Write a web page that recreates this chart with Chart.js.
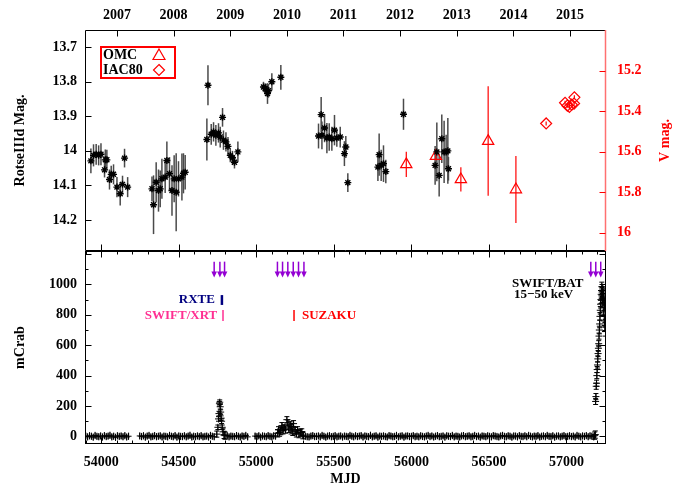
<!DOCTYPE html>
<html><head><meta charset="utf-8">
<script src="https://cdn.jsdelivr.net/npm/chart.js@4.4.1/dist/chart.umd.min.js"></script>
<style>
html,body{margin:0;padding:0;background:#fff;overflow:hidden;width:682px;height:486px;}
#wrapA{position:absolute;left:0;top:0;width:682px;height:252px;}
#wrapB{position:absolute;left:0;top:251px;width:682px;height:235px;}
</style></head><body>
<div id="wrapA"><canvas id="cA" width="682" height="252"></canvas></div>
<div id="wrapB"><canvas id="cB" width="682" height="235"></canvas></div>
<script>
// ---------------- DATA ----------------
const yearLabels = ['2007','2008','2009','2010','2011','2012','2013','2014','2015'];
const yearStartMJD = [54101,54466,54831,55197,55562,55927,56293,56658,57023];
const mjdTicks = [54000,54500,55000,55500,56000,56500,57000];
const rotseTicks = [13.7,13.8,13.9,14.0,14.1,14.2];
const vmagTicks = [15.2,15.4,15.6,15.8,16.0];
const batTicks = [0,200,400,600,800,1000];

// ROTSE-IIId magnitudes
const rotseMJD = [53933,53950,53967,53983,53998,54021,54026,54036,54053,54064,54079,54101,54122,54137,54150,54170,
  54327,54337,54354,54369,54380,54391,54412,54423,54440,54456,54470,54483,54498,54520,54530,54541,
  54681,54688,54709,54724,54739,54756,54767,54782,54788,54804,54817,54832,54846,54859,54881,
  55046,55057,55068,55072,55078,55100,55158,
  55401,55418,55423,55440,55455,55470,55487,55504,55519,55541,55568,55577,55590,
  55784,55792,55805,55820,55835,55949,
  56153,56164,56179,56196,56211,56224,56235,56239];
const rotseMag = [14.029,14.013,14.010,14.013,14.010,14.055,14.026,14.026,14.083,14.068,14.068,14.105,14.124,14.097,14.021,14.105,
  14.110,14.156,14.091,14.115,14.110,14.081,14.076,14.028,14.066,14.115,14.081,14.120,14.081,14.076,14.065,14.062,
  13.967,13.810,13.952,13.945,13.955,13.948,13.960,13.903,13.969,13.974,13.987,14.013,14.020,14.033,14.003,
  13.815,13.819,13.824,13.834,13.826,13.800,13.787,
  13.957,13.895,13.955,13.934,13.963,13.960,13.965,13.940,13.963,13.960,14.008,13.989,14.092,
  14.047,14.011,14.042,14.037,14.060,13.894,
  14.042,14.003,14.071,13.965,14.003,14.003,14.000,14.052];
const rotseErr = [0.036,0.032,0.030,0.029,0.032,0.022,0.030,0.029,0.029,0.025,0.029,0.029,0.034,0.025,0.027,0.029,
  0.036,0.085,0.058,0.061,0.053,0.058,0.046,0.055,0.048,0.073,0.068,0.113,0.051,0.068,0.058,0.050,
  0.061,0.058,0.030,0.028,0.030,0.028,0.030,0.027,0.028,0.028,0.027,0.020,0.020,0.018,0.030,
  0.015,0.015,0.018,0.030,0.020,0.025,0.036,
  0.036,0.051,0.040,0.041,0.044,0.040,0.035,0.044,0.025,0.030,0.036,0.032,0.027,
  0.040,0.061,0.045,0.053,0.034,0.045,
  0.056,0.085,0.061,0.070,0.090,0.050,0.095,0.034];

// INTEGRAL/OMC V mag
const omcMJD = [55967,56158,56319,56495,56674];
const omcV   = [15.663,15.622,15.737,15.548,15.787];
const omcErr = [0.062,0.020,0.060,0.270,0.165];

// IAC80 V mag
const iacMJD = [56869,56991,57006,57019,57034,57049,57051];
const iacV   = [15.461,15.359,15.373,15.379,15.368,15.363,15.332];
const iacErr = [0.010,0.010,0.010,0.010,0.010,0.010,0.010];

// SWIFT/BAT quiescent light curve (12-day sampling, null = gap / replaced by flare arrays)
const batQuietStart = 53900;
const batQuietStep = 12;
const batQuietErr = 24;
const batQuietValues = [
  2,-3,4,1,-5,6,0,-2,3,-4,5,-1,2,7,-3,1,-6,4,0,3,
  -2,5,-4,1,null,null,null,null,null,3,-1,4,-5,2,6,-3,0,5,-2,1,
  4,-4,2,0,-3,6,1,-2,5,-5,3,0,-1,4,-3,2,7,-4,1,-2,
  3,-1,5,-3,0,2,-4,6,1,-2,null,null,null,null,null,null,4,-3,2,0,
  -2,5,1,-4,3,0,6,-3,null,null,null,2,-1,4,-5,3,1,-2,5,0,
  -3,4,2,null,null,null,null,null,null,null,null,null,null,null,null,null,null,3,1,-2,
  -4,2,5,-1,0,3,-3,6,1,-5,2,4,-2,0,5,-3,1,3,-4,2,
  0,-2,6,1,-3,4,-1,2,5,-4,3,0,-2,7,-3,1,4,-5,2,0,
  3,-1,-4,5,2,-2,0,6,-3,1,4,-5,2,3,-1,0,5,-2,1,-3,
  4,0,-3,2,6,-1,3,-4,1,5,-2,0,3,-5,4,1,-1,6,-3,2,
  0,-4,3,5,-2,1,4,-3,0,6,-1,2,-5,3,1,-2,4,0,-3,5,
  2,-1,-4,3,6,0,-2,4,1,-5,3,2,-3,5,0,-1,4,-2,6,1,
  -3,2,0,5,-4,1,3,-2,6,0,-1,4,-5,2,3,-3,1,5,-2,0,
  4,-1,2,-4,6,1,-3,3,0,5,-2,4,1,-3];

// BAT flare 1 (late 2008)
const flare1MJD = [54745,54752,54756,54759,54762,54764,54767,54770,54773,54776,54780,54785,54792,54798];
const flare1Flux = [15,60,115,150,215,225,195,160,120,100,60,30,10,5];
const flare1Err = [20,15,15,15,15,15,15,15,15,15,15,20,24,24];

// BAT flare 2 (late 2009 / early 2010)
const flare2MJD = [55138,55143,55150,55158,55165,55172,55180,55188,55197,55203,55210,55218,55224,55229,55235,55240,55250,55258,55266,55275,55285,55293,55300];
const flare2Flux = [20,44,25,35,71,40,57,45,110,88,50,77,40,66,30,84,35,20,44,15,25,26,8];
const flare2Err = [24,20,24,24,20,24,20,24,20,20,24,20,24,20,24,20,24,24,20,24,24,24,24];

// BAT giant outburst (2015)
const burstMJD = [57182,57186,57188,57190,57192,57194,57196,57198,57200,57202,57204,57206,57208,57210,57212,57214,57216,57218,57220,57222,57224,57226,57228,57230,57232,57234,57236,57238,57240,57242,57244,57246,57248,57250,57252];
const burstFlux = [5,12,230,262,330,350,400,440,470,510,545,580,610,660,700,740,790,830,870,900,935,960,985,950,910,970,880,940,820,900,760,860,720,800,690];
const burstErr = [24,24,20,20,20,20,20,20,20,20,20,20,20,20,25,25,25,25,25,25,25,25,30,30,30,30,30,30,30,30,30,30,30,30,30];

// pointed observations (arrows, MJD)
const arrowMJD = [54728,54765,54795,55136,55169,55203,55238,55272,55307,57157,57189,57221];

// ---------------- CONFIG ----------------
const X_MIN = 53895, X_MAX = 57255;
const FONT = "'Liberation Serif','Times New Roman',serif";
const F14 = {family: FONT, size: 14, weight: 'bold'};

const annotTexts = [
  {text:'RXTE', x:54733, y:897, color:'#000080', align:'right'},
  {text:'SWIFT/XRT', x:54748, y:792, color:'#ff2f92', align:'right'},
  {text:'SUZAKU', x:55294, y:792, color:'#ff0000', align:'left'},
  {text:'SWIFT/BAT', x:56649, y:1003, color:'#000000', align:'left'},
  {text:'15\u221250 keV', x:56662, y:934, color:'#000000', align:'left'}
];
const annotBars = [
  {x:54778, y1:865, y2:930, color:'#000080', w:2.5},
  {x:54785, y1:759, y2:832, color:'#ff2f92', w:1.5},
  {x:55243, y1:759, y2:832, color:'#ff0000', w:1.5}
];

const zip = (xs, ys) => xs.map((x, i) => ({x: x, y: ys[i]}));

const batQuiet = [];
batQuietValues.forEach((v, i) => { if (v !== null) batQuiet.push({x: batQuietStart + i * batQuietStep, y: v}); });

function noPad(sc) { sc.paddingTop = 0; sc.paddingBottom = 0; sc.paddingLeft = 0; sc.paddingRight = 0; }

// ---------------- PLUGINS ----------------
const errorBarPlugin = {
  id: 'errbars',
  beforeDatasetsDraw(chart) {
    const ctx = chart.ctx, ca = chart.chartArea;
    ctx.save();
    ctx.beginPath(); ctx.rect(ca.left, ca.top, ca.right - ca.left, ca.bottom - ca.top); ctx.clip();
    chart.data.datasets.forEach(ds => {
      if (!ds.errs) return;
      const xs = chart.scales[ds.xAxisID || 'x'], ys = chart.scales[ds.yAxisID || 'y'];
      ctx.strokeStyle = ds.errColor; ctx.lineWidth = ds.errWidth;
      ds.data.forEach((p, i) => {
        const e = ds.errs[i];
        const px = xs.getPixelForValue(p.x);
        const y1 = ys.getPixelForValue(p.y - e), y2 = ys.getPixelForValue(p.y + e);
        ctx.beginPath(); ctx.moveTo(px, y1); ctx.lineTo(px, y2);
        if (ds.errCap) {
          ctx.moveTo(px - ds.errCap, y1); ctx.lineTo(px + ds.errCap, y1);
          ctx.moveTo(px - ds.errCap, y2); ctx.lineTo(px + ds.errCap, y2);
        }
        ctx.stroke();
      });
    });
    ctx.restore();
  }
};

function line(ctx, x1, y1, x2, y2) { ctx.beginPath(); ctx.moveTo(x1, y1); ctx.lineTo(x2, y2); ctx.stroke(); }

const topFramePlugin = {
  id: 'topframe',
  afterDraw(chart) {
    const ctx = chart.ctx, ca = chart.chartArea, s = chart.scales;
    const L = Math.round(ca.left) + 0.5, R = Math.round(ca.right) - 0.5, T = Math.round(ca.top) + 0.5, B = Math.round(ca.bottom) - 0.5;
    ctx.save();
    ctx.lineWidth = 1; ctx.strokeStyle = '#000';
    line(ctx, L, T, R, T); line(ctx, L, T, L, B); line(ctx, L, B, R, B);
    yearStartMJD.forEach(v => { const x = Math.round(s.xTop.getPixelForValue(v)) + 0.5; line(ctx, x, T, x, T + 6); });
    mjdTicks.forEach(v => { const x = Math.round(s.x.getPixelForValue(v)) + 0.5; line(ctx, x, B, x, B - 6); });
    rotseTicks.forEach(v => { const y = Math.round(s.yL.getPixelForValue(v)) + 0.5; line(ctx, L, y, L + 6, y); });
    ctx.strokeStyle = '#ff7070'; ctx.lineWidth = 1.5;
    line(ctx, R, T - 0.5, R, B + 0.5);
    ctx.lineWidth = 1; ctx.strokeStyle = '#ff0000';
    vmagTicks.forEach(v => { const y = Math.round(s.yR.getPixelForValue(v)) + 0.5; line(ctx, R, y, R - 6, y); });
    // right axis title (reads bottom to top)
    ctx.save();
    ctx.translate(665, (ca.top + ca.bottom) / 2);
    ctx.rotate(-Math.PI / 2);
    ctx.fillStyle = '#ff0000'; ctx.font = 'bold 14px ' + FONT;
    ctx.textAlign = 'center'; ctx.textBaseline = 'middle';
    ctx.fillText('V mag.', 0, 0);
    ctx.restore();
    // legend box
    const lx = ca.left + 16, ly = ca.top + 17;
    ctx.strokeStyle = '#ff0000'; ctx.lineWidth = 2;
    ctx.strokeRect(lx, ly, 74, 31);
    ctx.fillStyle = '#000'; ctx.font = 'bold 14px ' + FONT; ctx.textAlign = 'left'; ctx.textBaseline = 'middle';
    ctx.fillText('OMC', lx + 2, ly + 8.5);
    ctx.fillText('IAC80', lx + 2, ly + 23);
    ctx.strokeStyle = '#ff0000'; ctx.lineWidth = 1.2;
    const tx = lx + 58, ty = ly + 8;
    ctx.beginPath(); ctx.moveTo(tx, ty - 6); ctx.lineTo(tx + 6, ty + 4.5); ctx.lineTo(tx - 6, ty + 4.5); ctx.closePath(); ctx.stroke();
    const dx = lx + 58, dy = ly + 23;
    ctx.beginPath(); ctx.moveTo(dx, dy - 5.5); ctx.lineTo(dx + 5.5, dy); ctx.lineTo(dx, dy + 5.5); ctx.lineTo(dx - 5.5, dy); ctx.closePath(); ctx.stroke();
    ctx.restore();
  }
};

const bottomFramePlugin = {
  id: 'bottomframe',
  afterDatasetsDraw(chart) {
    const ctx = chart.ctx, s = chart.scales;
    ctx.save();
    // arrows
    ctx.strokeStyle = '#9400d3'; ctx.fillStyle = '#9400d3'; ctx.lineWidth = 1.5;
    arrowMJD.forEach(v => {
      const x = s.x.getPixelForValue(v);
      const y1 = s.y.getPixelForValue(1150), y2 = s.y.getPixelForValue(1045);
      line(ctx, x, y1, x, y2 - 5);
      ctx.beginPath(); ctx.moveTo(x - 2.8, y2 - 6); ctx.lineTo(x + 2.8, y2 - 6); ctx.lineTo(x, y2); ctx.closePath(); ctx.fill();
    });
    // observation bars
    annotBars.forEach(b => {
      ctx.strokeStyle = b.color; ctx.lineWidth = b.w;
      const x = s.x.getPixelForValue(b.x);
      line(ctx, x, s.y.getPixelForValue(b.y1), x, s.y.getPixelForValue(b.y2));
    });
    // texts
    ctx.font = 'bold 13px ' + FONT; ctx.textBaseline = 'middle';
    annotTexts.forEach(t => {
      ctx.fillStyle = t.color; ctx.textAlign = t.align;
      ctx.fillText(t.text, s.x.getPixelForValue(t.x), s.y.getPixelForValue(t.y));
    });
    ctx.restore();
  },
  afterDraw(chart) {
    const ctx = chart.ctx, ca = chart.chartArea, s = chart.scales;
    const L = Math.round(ca.left) + 0.5, R = Math.round(ca.right) - 0.5, T = Math.round(ca.top) + 0.5, B = Math.round(ca.bottom) - 0.5;
    ctx.save();
    ctx.lineWidth = 1; ctx.strokeStyle = '#000';
    ctx.strokeRect(L, T, R - L, B - T);
    for (let v = 53900; v <= X_MAX; v += 100) {
      const x = Math.round(s.x.getPixelForValue(v)) + 0.5;
      const len = (v % 500 === 0) ? 6 : 3;
      line(ctx, x, B, x, B - len); line(ctx, x, T, x, T + len);
    }
    for (let v = 0; v <= 1200; v += 100) {
      const y = Math.round(s.y.getPixelForValue(v)) + 0.5;
      const len = (v % 200 === 0) ? 6 : 3;
      line(ctx, L, y, L + len, y); line(ctx, R, y, R - len, y);
    }
    ctx.restore();
  }
};

// ---------------- CHART A (optical) ----------------
new Chart(document.getElementById('cA'), {
  type: 'scatter',
  data: {
    datasets: [
      {label: 'ROTSE', data: zip(rotseMJD, rotseMag), xAxisID: 'x', yAxisID: 'yL',
       pointStyle: 'star', radius: 3.5, borderColor: '#000', backgroundColor: '#000', borderWidth: 1.4,
       errs: rotseErr, errColor: '#4a4a4a', errWidth: 1.5},
      {label: 'OMC', data: zip(omcMJD, omcV), xAxisID: 'x', yAxisID: 'yR',
       pointStyle: 'triangle', radius: 6.5, borderColor: '#ff0000', backgroundColor: 'rgba(0,0,0,0)', borderWidth: 1.2,
       errs: omcErr, errColor: '#ff0000', errWidth: 1.2},
      {label: 'IAC80', data: zip(iacMJD, iacV), xAxisID: 'x', yAxisID: 'yR',
       pointStyle: 'rectRot', radius: 5.5, borderColor: '#ff0000', backgroundColor: 'rgba(0,0,0,0)', borderWidth: 1.2,
       errs: iacErr, errColor: '#ff0000', errWidth: 1.2}
    ]
  },
  options: {
    responsive: false, animation: false,
    layout: {padding: {left: 0, right: 0, top: 0, bottom: 1}, autoPadding: false},
    plugins: {legend: {display: false}, tooltip: {enabled: false}},
    scales: {
      x: {type: 'linear', position: 'bottom', min: X_MIN, max: X_MAX, display: false,
        afterFit: sc => { sc.height = 0; noPad(sc); }},
      xTop: {type: 'linear', position: 'top', min: X_MIN, max: X_MAX,
        afterBuildTicks: sc => { sc.ticks = yearStartMJD.map(v => ({value: v})); },
        ticks: {callback: (v, i) => yearLabels[i], font: F14, color: '#000', padding: 6, maxRotation: 0, autoSkip: false},
        grid: {display: false, drawTicks: false}, border: {display: false},
        afterFit: sc => { sc.height = 30; noPad(sc); }},
      yL: {type: 'linear', position: 'left', reverse: true, min: 13.65, max: 14.29,
        afterBuildTicks: sc => { sc.ticks = rotseTicks.map(v => ({value: v})); },
        ticks: {callback: v => String(Math.round(v * 10) / 10), font: F14, color: '#000', padding: 8, autoSkip: false},
        grid: {display: false, drawTicks: false}, border: {display: false},
        title: {display: true, text: 'RotseIIId Mag.', font: F14, color: '#000', padding: {top: 12, bottom: 0}},
        afterFit: sc => { sc.width = 85; noPad(sc); }},
      yR: {type: 'linear', position: 'right', reverse: true, min: 15.0, max: 16.09,
        afterBuildTicks: sc => { sc.ticks = vmagTicks.map(v => ({value: v})); },
        ticks: {callback: v => String(Math.round(v * 10) / 10), font: F14, color: '#ff0000', padding: 11, autoSkip: false},
        grid: {display: false, drawTicks: false}, border: {display: false},
        afterFit: sc => { sc.width = 76; noPad(sc); }}
    }
  },
  plugins: [errorBarPlugin, topFramePlugin]
});

// ---------------- CHART B (X-ray) ----------------
const batStyle = {pointStyle: 'cross', radius: 3.5, borderColor: '#000', backgroundColor: '#000', borderWidth: 1,
  errColor: '#000', errWidth: 1, errCap: 2.5, xAxisID: 'x', yAxisID: 'y'};
new Chart(document.getElementById('cB'), {
  type: 'scatter',
  data: {
    datasets: [
      Object.assign({}, batStyle, {label: 'quiet', data: batQuiet, errs: batQuiet.map(() => batQuietErr), errCap: 0, radius: 3}),
      Object.assign({label: 'flare1', data: zip(flare1MJD, flare1Flux), errs: flare1Err}, batStyle),
      Object.assign({label: 'flare2', data: zip(flare2MJD, flare2Flux), errs: flare2Err}, batStyle),
      Object.assign({label: 'burst', data: zip(burstMJD, burstFlux), errs: burstErr}, batStyle)
    ]
  },
  options: {
    responsive: false, animation: false,
    layout: {padding: {left: 0, right: 76, top: 0, bottom: 0}, autoPadding: false},
    plugins: {legend: {display: false}, tooltip: {enabled: false}},
    scales: {
      x: {type: 'linear', position: 'bottom', min: X_MIN, max: X_MAX,
        afterBuildTicks: sc => { sc.ticks = mjdTicks.map(v => ({value: v})); },
        ticks: {callback: v => String(v), font: F14, color: '#000', padding: 10, maxRotation: 0, autoSkip: false},
        grid: {display: false, drawTicks: false}, border: {display: false},
        title: {display: true, text: 'MJD', font: {family: FONT, size: 14, weight: 'bold', lineHeight: 1}, color: '#000', padding: {top: 0, bottom: 0}},
        afterFit: sc => { sc.height = 42; noPad(sc); }},
      y: {type: 'linear', position: 'left', min: -50, max: 1220,
        afterBuildTicks: sc => { sc.ticks = batTicks.map(v => ({value: v})); },
        ticks: {callback: v => String(v), font: F14, color: '#000', padding: 8, autoSkip: false},
        grid: {display: false, drawTicks: false}, border: {display: false},
        title: {display: true, text: 'mCrab', font: F14, color: '#000', padding: {top: 12, bottom: 0}},
        afterFit: sc => { sc.width = 85; noPad(sc); }}
    }
  },
  plugins: [errorBarPlugin, bottomFramePlugin]
});
</script>
</body></html>
